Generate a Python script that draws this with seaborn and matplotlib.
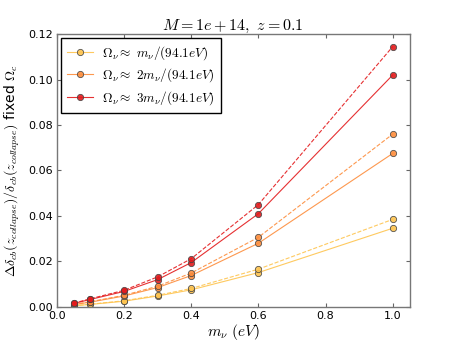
import numpy as np
import pandas as pd
import matplotlib
matplotlib.use("Agg")
import matplotlib.pyplot as plt
import seaborn as sns

mnu = [0.05, 0.1, 0.2, 0.3, 0.4, 0.6, 1.0]

# solid: fixed Omega_c ; dashed: second estimate
y1_solid = [0.0005, 0.0011, 0.0025, 0.0048, 0.0075, 0.0151, 0.0346]
y1_dash = [0.0005, 0.0012, 0.0027, 0.0051, 0.0081, 0.0166, 0.0385]
y2_solid = [0.0010, 0.0021, 0.0048, 0.0085, 0.0138, 0.0280, 0.0675]
y2_dash = [0.0011, 0.0023, 0.0051, 0.0091, 0.0149, 0.0306, 0.0760]
y3_solid = [0.0015, 0.0033, 0.0068, 0.0120, 0.0195, 0.0410, 0.1020]
y3_dash = [0.0016, 0.0036, 0.0073, 0.0132, 0.0212, 0.0450, 0.1145]

labels = [r"$\Omega_\nu \approx\ m_\nu/(94.1eV)$",
          r"$\Omega_\nu \approx\ 2m_\nu/(94.1eV)$",
          r"$\Omega_\nu \approx\ 3m_\nu/(94.1eV)$"]
colors = ["#fec44f", "#fd8d3c", "#e31a1c"]

plt.rcParams["mathtext.fontset"] = "cm"
plt.rcParams["font.family"] = ["DejaVu Sans"]
plt.rcParams["xtick.direction"] = "in"
plt.rcParams["ytick.direction"] = "in"

fig, ax = plt.subplots(figsize=(4.55, 3.41), dpi=100)

series = [(y1_solid, y1_dash), (y2_solid, y2_dash), (y3_solid, y3_dash)]
for (ys, yd), c, lab in zip(series, colors, labels):
    sns.lineplot(x=mnu, y=ys, ax=ax, color=c, lw=0.8, alpha=0.9, marker="o",
                 ms=4.5, mec="#444444", mew=0.6, mfc=c, label=lab)
    sns.lineplot(x=mnu, y=yd, ax=ax, color=c, lw=0.8, alpha=0.9, ls="--",
                 marker="o", ms=4.5, mec="#444444", mew=0.6, mfc=c,
                 dashes=(4, 3))

handles, labs = ax.get_legend_handles_labels()
leg = ax.legend(handles[:3], labs[:3], loc="upper left", fontsize=9.5,
                fancybox=False, framealpha=1, edgecolor="black",
                handlelength=2.0, borderpad=0.45, labelspacing=0.35,
                handletextpad=0.7, borderaxespad=0.3)
leg.get_frame().set_linewidth(1.0)

ax.set_xlim(0, 1.05)
ax.set_ylim(0, 0.12)
ax.set_xticks([0.0, 0.2, 0.4, 0.6, 0.8, 1.0])
ax.set_yticks([0.0, 0.02, 0.04, 0.06, 0.08, 0.10, 0.12])
ax.set_yticklabels(["0.00", "0.02", "0.04", "0.06", "0.08", "0.10", "0.12"])
ax.tick_params(labelsize=8, top=True, right=True, length=3, color="#666666",
               pad=3)
for s in ax.spines.values():
    s.set_color("#777777")
    s.set_linewidth(1.0)

ax.set_title(r"$M=1e+14,\ z=0.1$", fontsize=11.5, pad=3)
ax.set_xlabel(r"$m_\nu\ (eV)$", fontsize=11, labelpad=1)
ax.set_ylabel(r"$\Delta\delta_{cb}(z_{collapse})/\delta_{cb}(z_{collapse})$ fixed $\Omega_c$",
              fontsize=10, labelpad=4)

fig.subplots_adjust(left=0.125, right=0.9, top=0.9, bottom=0.1)
fig.savefig("out.png", dpi=100)
